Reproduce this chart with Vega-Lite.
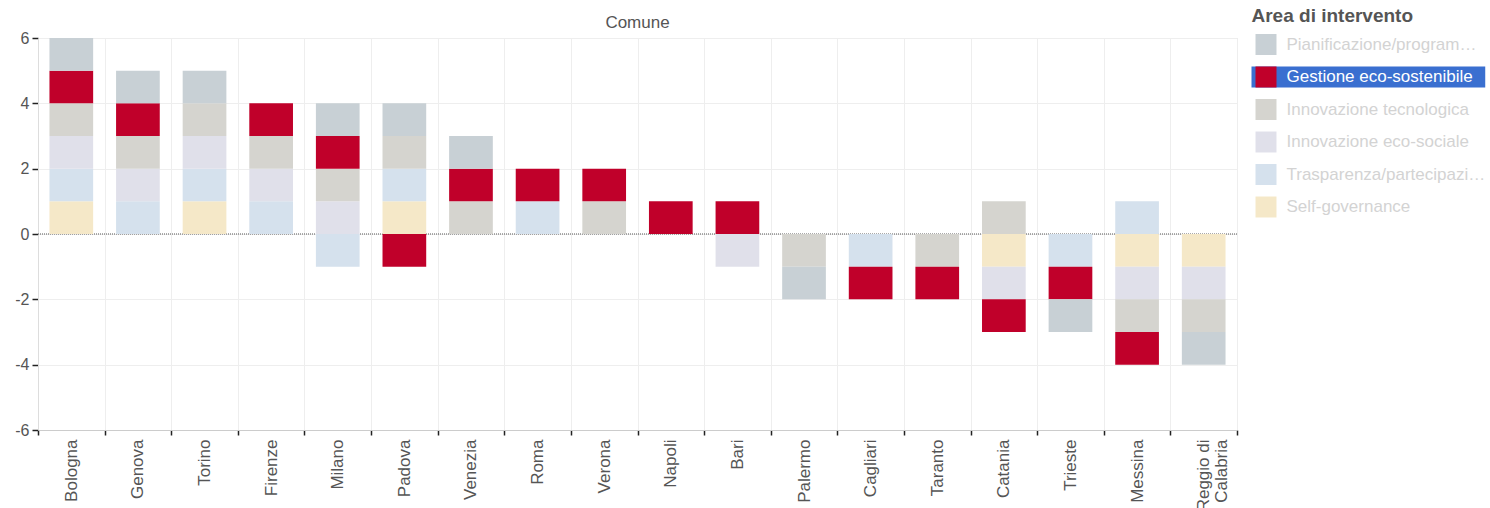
{
  "$schema": "https://vega.github.io/schema/vega-lite/v6.json",
  "autosize": "none",
  "width": 1199,
  "height": 392,
  "padding": {"left": 38, "top": 38, "right": 253, "bottom": 78},
  "background": "white",
  "config": {
    "font": "Liberation Sans",
    "view": {"stroke": "#dddddd", "strokeWidth": 1}
  },
  "title": {"text": "Comune", "fontSize": 17, "fontWeight": "normal", "color": "#555555", "anchor": "middle", "offset": -25, "font": "Liberation Sans"},
  "datasets": {
    "areas": [
      {"area": "Self-governance", "rank": 0},
      {"area": "Trasparenza/partecipazione", "rank": 1},
      {"area": "Innovazione eco-sociale", "rank": 2},
      {"area": "Innovazione tecnologica", "rank": 3},
      {"area": "Gestione eco-sostenibile", "rank": 4},
      {"area": "Pianificazione/programmazione", "rank": 5}
    ],
    "rows": [
    {"comune": "Bologna", "area": "Self-governance", "v": 1},
    {"comune": "Bologna", "area": "Trasparenza/partecipazione", "v": 1},
    {"comune": "Bologna", "area": "Innovazione eco-sociale", "v": 1},
    {"comune": "Bologna", "area": "Innovazione tecnologica", "v": 1},
    {"comune": "Bologna", "area": "Gestione eco-sostenibile", "v": 1},
    {"comune": "Bologna", "area": "Pianificazione/programmazione", "v": 1},
    {"comune": "Genova", "area": "Trasparenza/partecipazione", "v": 1},
    {"comune": "Genova", "area": "Innovazione eco-sociale", "v": 1},
    {"comune": "Genova", "area": "Innovazione tecnologica", "v": 1},
    {"comune": "Genova", "area": "Gestione eco-sostenibile", "v": 1},
    {"comune": "Genova", "area": "Pianificazione/programmazione", "v": 1},
    {"comune": "Torino", "area": "Self-governance", "v": 1},
    {"comune": "Torino", "area": "Trasparenza/partecipazione", "v": 1},
    {"comune": "Torino", "area": "Innovazione eco-sociale", "v": 1},
    {"comune": "Torino", "area": "Innovazione tecnologica", "v": 1},
    {"comune": "Torino", "area": "Pianificazione/programmazione", "v": 1},
    {"comune": "Firenze", "area": "Trasparenza/partecipazione", "v": 1},
    {"comune": "Firenze", "area": "Innovazione eco-sociale", "v": 1},
    {"comune": "Firenze", "area": "Innovazione tecnologica", "v": 1},
    {"comune": "Firenze", "area": "Gestione eco-sostenibile", "v": 1},
    {"comune": "Milano", "area": "Innovazione eco-sociale", "v": 1},
    {"comune": "Milano", "area": "Innovazione tecnologica", "v": 1},
    {"comune": "Milano", "area": "Gestione eco-sostenibile", "v": 1},
    {"comune": "Milano", "area": "Pianificazione/programmazione", "v": 1},
    {"comune": "Milano", "area": "Trasparenza/partecipazione", "v": -1},
    {"comune": "Padova", "area": "Self-governance", "v": 1},
    {"comune": "Padova", "area": "Trasparenza/partecipazione", "v": 1},
    {"comune": "Padova", "area": "Innovazione tecnologica", "v": 1},
    {"comune": "Padova", "area": "Pianificazione/programmazione", "v": 1},
    {"comune": "Padova", "area": "Gestione eco-sostenibile", "v": -1},
    {"comune": "Venezia", "area": "Innovazione tecnologica", "v": 1},
    {"comune": "Venezia", "area": "Gestione eco-sostenibile", "v": 1},
    {"comune": "Venezia", "area": "Pianificazione/programmazione", "v": 1},
    {"comune": "Roma", "area": "Trasparenza/partecipazione", "v": 1},
    {"comune": "Roma", "area": "Gestione eco-sostenibile", "v": 1},
    {"comune": "Verona", "area": "Innovazione tecnologica", "v": 1},
    {"comune": "Verona", "area": "Gestione eco-sostenibile", "v": 1},
    {"comune": "Napoli", "area": "Gestione eco-sostenibile", "v": 1},
    {"comune": "Bari", "area": "Gestione eco-sostenibile", "v": 1},
    {"comune": "Bari", "area": "Innovazione eco-sociale", "v": -1},
    {"comune": "Palermo", "area": "Innovazione tecnologica", "v": -1},
    {"comune": "Palermo", "area": "Pianificazione/programmazione", "v": -1},
    {"comune": "Cagliari", "area": "Trasparenza/partecipazione", "v": -1},
    {"comune": "Cagliari", "area": "Gestione eco-sostenibile", "v": -1},
    {"comune": "Taranto", "area": "Innovazione tecnologica", "v": -1},
    {"comune": "Taranto", "area": "Gestione eco-sostenibile", "v": -1},
    {"comune": "Catania", "area": "Innovazione tecnologica", "v": 1},
    {"comune": "Catania", "area": "Self-governance", "v": -1},
    {"comune": "Catania", "area": "Innovazione eco-sociale", "v": -1},
    {"comune": "Catania", "area": "Gestione eco-sostenibile", "v": -1},
    {"comune": "Trieste", "area": "Trasparenza/partecipazione", "v": -1},
    {"comune": "Trieste", "area": "Gestione eco-sostenibile", "v": -1},
    {"comune": "Trieste", "area": "Pianificazione/programmazione", "v": -1},
    {"comune": "Messina", "area": "Trasparenza/partecipazione", "v": 1},
    {"comune": "Messina", "area": "Self-governance", "v": -1},
    {"comune": "Messina", "area": "Innovazione eco-sociale", "v": -1},
    {"comune": "Messina", "area": "Innovazione tecnologica", "v": -1},
    {"comune": "Messina", "area": "Gestione eco-sostenibile", "v": -1},
    {"comune": "Reggio di Calabria", "area": "Self-governance", "v": -1},
    {"comune": "Reggio di Calabria", "area": "Innovazione eco-sociale", "v": -1},
    {"comune": "Reggio di Calabria", "area": "Innovazione tecnologica", "v": -1},
    {"comune": "Reggio di Calabria", "area": "Pianificazione/programmazione", "v": -1}
  ]},
  "data": {"name": "rows"},
  "encoding": {
    "x": {
      "field": "comune", "type": "nominal",
      "sort": ["Bologna", "Genova", "Torino", "Firenze", "Milano", "Padova", "Venezia", "Roma", "Verona", "Napoli", "Bari", "Palermo", "Cagliari", "Taranto", "Catania", "Trieste", "Messina", "Reggio di Calabria"],
      "scale": {"paddingInner": 0, "paddingOuter": 0},
      "axis": {
        "title": null, "orient": "bottom", "tickBand": "extent",
        "labelAngle": -90, "labelAlign": "right", "labelBaseline": "middle",
        "labelFontSize": 17, "labelColor": "#555555", "labelPadding": 4, "labelLimit": 200,
        "labelExpr": "datum.label == 'Reggio di Calabria' ? ['Reggio di', 'Calabria'] : datum.label",
        "labelLineHeight": 18,
        "encode": {"labels": {"update": {"dy": [{"test": "datum.value === 'Reggio di Calabria'", "value": -10}, {"value": 0}]}}},
        "tickColor": "#222222", "tickSize": 5, "tickWidth": 1.5,
        "domainColor": "#cccccc", "grid": true, "gridColor": "#eeeeee"
      }
    },
    "y": {
      "type": "quantitative",
      "scale": {"domain": [-6, 6], "nice": false, "zero": false},
      "axis": {
        "title": null, "values": [-6, -4, -2, 0, 2, 4, 6],
        "labelExpr": "'' + datum.value",
        "labelFontSize": 16, "labelColor": "#555555", "labelPadding": 3,
        "tickColor": "#222222", "tickSize": 6, "tickWidth": 1.5,
        "domainColor": "#dddddd", "gridColor": "#eeeeee"
      }
    }
  },
  "layer": [
    {
      "data": {"values": [{"z": 0}]},
      "mark": {"type": "rule", "color": "#555555", "strokeDash": [1, 1], "strokeWidth": 1},
      "encoding": {"y": {"field": "z", "type": "quantitative"}, "x": null}
    },
    {
      "transform": [{"lookup": "area", "from": {"data": {"name": "areas"}, "key": "area", "fields": ["rank"]}}],
      "mark": {"type": "bar", "width": {"band": 0.656}},
      "encoding": {
        "y": {"field": "v", "type": "quantitative", "stack": "zero"},
        "order": {"field": "rank", "type": "quantitative", "sort": "ascending"},
        "color": {
          "field": "area", "type": "nominal",
          "sort": ["Pianificazione/programmazione", "Gestione eco-sostenibile", "Innovazione tecnologica", "Innovazione eco-sociale", "Trasparenza/partecipazione", "Self-governance"],
          "scale": {
            "domain": ["Pianificazione/programmazione", "Gestione eco-sostenibile", "Innovazione tecnologica", "Innovazione eco-sociale", "Trasparenza/partecipazione", "Self-governance"],
            "range": ["#c8d0d5", "#c0002a", "#d5d4cf", "#e0e0ea", "#d5e1ed", "#f5e8c8"]
          },
          "legend": {
            "title": "Area di intervento", "orient": "none", "legendX": 1213.5, "legendY": -31,
            "titleFontSize": 19, "titleFontWeight": "bold", "titleColor": "#555555", "titlePadding": 8,
            "symbolType": "square", "symbolSize": 441, "symbolStrokeWidth": 0, "symbolOffset": 4,
            "labelFontSize": 17, "labelColor": "#d3d3d3", "labelLimit": 201, "labelOffset": 10,
            "rowPadding": 11.5,
            "encode": {
              "labels": {"update": {"fill": [{"test": "datum.value === 'Gestione eco-sostenibile'", "value": "#ffffff"}, {"value": "#d3d3d3"}]}},
              "entries": {"update": {
                "width": {"value": 224}, "height": {"value": 21},
                "fill": [{"test": "datum.value === 'Gestione eco-sostenibile' || datum.index === 1", "value": "#3a6fd0"}, {"value": "transparent"}]
              }}
            }
          }
        }
      }
    }
  ]
}
